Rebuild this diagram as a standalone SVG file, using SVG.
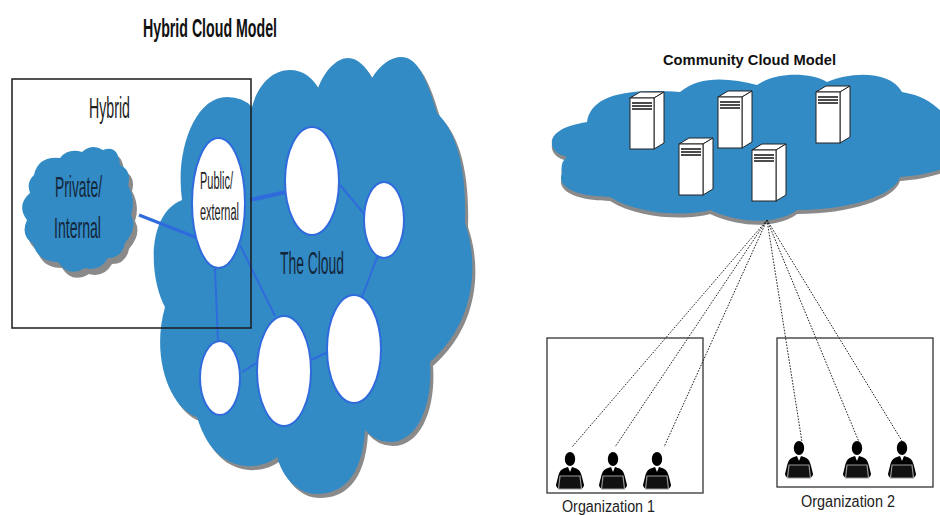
<svg xmlns="http://www.w3.org/2000/svg" width="940" height="515" viewBox="0 0 940 515">
<style>
text{font-family:"Liberation Sans",Arial,sans-serif}
.cloud{fill:#338bc5}
.shadow{fill:#8a8a8a}
.node{fill:#fff;stroke:#2f6bdc;stroke-width:2}
.link{stroke:#2f6bdc;fill:none}
.lbl{fill:#14263a}
.dot{stroke:#222;stroke-width:1;stroke-dasharray:1.6 1.4;fill:none}
.box{fill:none;stroke:#333;stroke-width:1.3}
.face{fill:#fff;stroke:#222;stroke-width:1}
.bar{stroke:#111;stroke-width:1.5}
</style>
<defs>
<path id="bigCloud" d="M252,107 C258,85 272,70 290,70 C303,70 313,78 318,88 C325,70 337,58 348,58 C358,58 366,67 372,78 C380,65 390,57 402,57 C420,57 430,90 437,113 C455,130 467,165 465,223 C478,260 478,320 430,362 C433,400 420,442 390,442 Q375,442 365,430 C362,480 340,494 317,494 C298,494 283,478 277,457 C262,470 215,478 197,417 C172,410 150,360 165,307 C150,280 145,215 182,200 C175,150 195,97 227,97 Q243,97 252,107 Z"/>
<path id="smallCloud" d="M34,175 Q38,156 60,158 Q68,148 82,152 Q92,143 103,150 Q118,144 120,165 Q132,170 128,185 Q136,200 131,215 Q138,228 125,243 Q122,258 108,258 Q100,272 85,268 Q68,278 58,262 Q38,262 33,244 Q20,235 27,220 Q16,205 30,193 Q26,182 34,175 Z"/>
<path id="rightCloud" d="M552,140 C556,128 575,124 587,122 C590,100 615,87 680,92 C700,75 730,78 757,85 C775,72 810,72 827,82 C850,72 890,70 902,92 C925,96 935,105 945,115 L945,168 C925,175 910,176 900,177 C895,195 850,210 797,210 C785,220 750,228 710,210 C690,216 640,216 610,197 C585,197 555,190 562,173 Q560,162 567,157 Q550,152 552,140 Z"/>
<g id="server">
<path class="face" d="M0,0 L10,-6 H34 L24,0 Z"/>
<path class="face" d="M24,0 L34,-6 V45 L24,51 Z"/>
<rect class="face" x="0" y="0" width="24" height="51"/>
<path class="bar" d="M2,5 H22 M2,8 H22 M2,11 H22"/>
</g>
<g id="person">
<ellipse cx="0" cy="0" rx="5.200" ry="7"/>
<path d="M-5,9 L-2,8 L0,13 L2,8 L5,9 C9,10 11,13 12,18 L14,26 C14,28 12,30 10,30 H-10 C-12,30 -14,28 -14,26 L-12,18 C-11,13 -9,10 -5,9 Z"/>
<path d="M-10,17 H10 L11.500,30 H-11.500 Z" fill="#111" stroke="#9a9a9a" stroke-width="1.200"/>
</g>
</defs>
<rect width="940" height="515" fill="#fff"/>

<g id="title-hybrid"><text x="143" y="37" font-size="26" font-weight="700" fill="#111" textLength="134" lengthAdjust="spacingAndGlyphs">Hybrid Cloud Model</text></g>
<g id="title-community"><text x="663" y="65" font-size="14.500" font-weight="700" fill="#111" textLength="173" lengthAdjust="spacingAndGlyphs">Community Cloud Model</text></g>

<g id="the-cloud">
<use href="#bigCloud" class="shadow" x="3" y="4"/>
<use href="#bigCloud" class="cloud"/>
<text class="lbl" x="280" y="274" font-size="31" textLength="64" lengthAdjust="spacingAndGlyphs">The Cloud</text>
</g>
<g id="private-internal">
<use href="#smallCloud" class="shadow" x="4" y="6"/>
<use href="#smallCloud" class="cloud"/>
<text class="lbl" x="55" y="197" font-size="30" textLength="47" lengthAdjust="spacingAndGlyphs">Private/</text>
<text class="lbl" x="54" y="238" font-size="30" textLength="47" lengthAdjust="spacingAndGlyphs">Internal</text>
</g>

<g id="hybrid-links">
<path class="link" stroke-width="3" d="M139,215 L195,237"/>
<path class="link" stroke-width="4" d="M250,200 L286,192"/>
<path class="link" stroke-width="2" d="M340,185 L365,215 M378,255 L362,297 M311,360 L328,352 M242,372 L258,362 M215,268 L218,342 M240,245 L275,316"/>
</g>

<g id="node-public"><ellipse class="node" cx="218.500" cy="203" rx="26.500" ry="65"/>
<text x="200" y="189" font-size="23" fill="#222" textLength="33" lengthAdjust="spacingAndGlyphs">Public/</text>
<text x="200" y="220" font-size="23" fill="#222" textLength="39" lengthAdjust="spacingAndGlyphs">external</text></g>
<g id="node-a"><ellipse class="node" cx="312" cy="181" rx="27" ry="54"/></g>
<g id="node-b"><ellipse class="node" cx="384" cy="220" rx="20" ry="38"/></g>
<g id="node-c"><ellipse class="node" cx="354" cy="349" rx="27" ry="54"/></g>
<g id="node-d"><ellipse class="node" cx="284" cy="371" rx="27" ry="55"/></g>
<g id="node-e"><ellipse class="node" cx="220" cy="378" rx="20" ry="37"/></g>

<g id="hybrid-box"><rect x="12" y="79" width="239" height="249" fill="none" stroke="#1a1a1a" stroke-width="1.500"/>
<text x="89" y="118" font-size="30" fill="#222" textLength="41" lengthAdjust="spacingAndGlyphs">Hybrid</text></g>

<g id="community-cloud">
<use href="#rightCloud" class="shadow" x="0" y="4"/>
<use href="#rightCloud" class="cloud"/>
</g>
<g id="server-1"><use href="#server" x="630" y="98"/></g>
<g id="server-2"><use href="#server" x="718" y="97"/></g>
<g id="server-3"><use href="#server" x="679" y="144"/></g>
<g id="server-4"><use href="#server" x="752" y="150"/></g>
<g id="server-5"><use href="#server" x="816" y="92"/></g>

<g id="organization-1"><rect class="box" x="547" y="338" width="156" height="155"/>
<text x="562" y="512" font-size="16" fill="#222" textLength="93" lengthAdjust="spacingAndGlyphs">Organization 1</text></g>
<g id="organization-2"><rect class="box" x="777" y="338" width="156" height="149"/>
<text x="801" y="507" font-size="16" fill="#222" textLength="94" lengthAdjust="spacingAndGlyphs">Organization 2</text></g>

<g id="connectors">
<path class="dot" d="M767,220 L572,447 M767,220 L615,447 M767,220 L664,447 M767,220 L802,442 M767,220 L859,442 M767,220 L902,441"/>
</g>

<g id="user-1"><use href="#person" x="570" y="459"/></g>
<g id="user-2"><use href="#person" x="613" y="459"/></g>
<g id="user-3"><use href="#person" x="657" y="459"/></g>
<g id="user-4"><use href="#person" x="799" y="448"/></g>
<g id="user-5"><use href="#person" x="857" y="448"/></g>
<g id="user-6"><use href="#person" x="902" y="448"/></g>
</svg>
